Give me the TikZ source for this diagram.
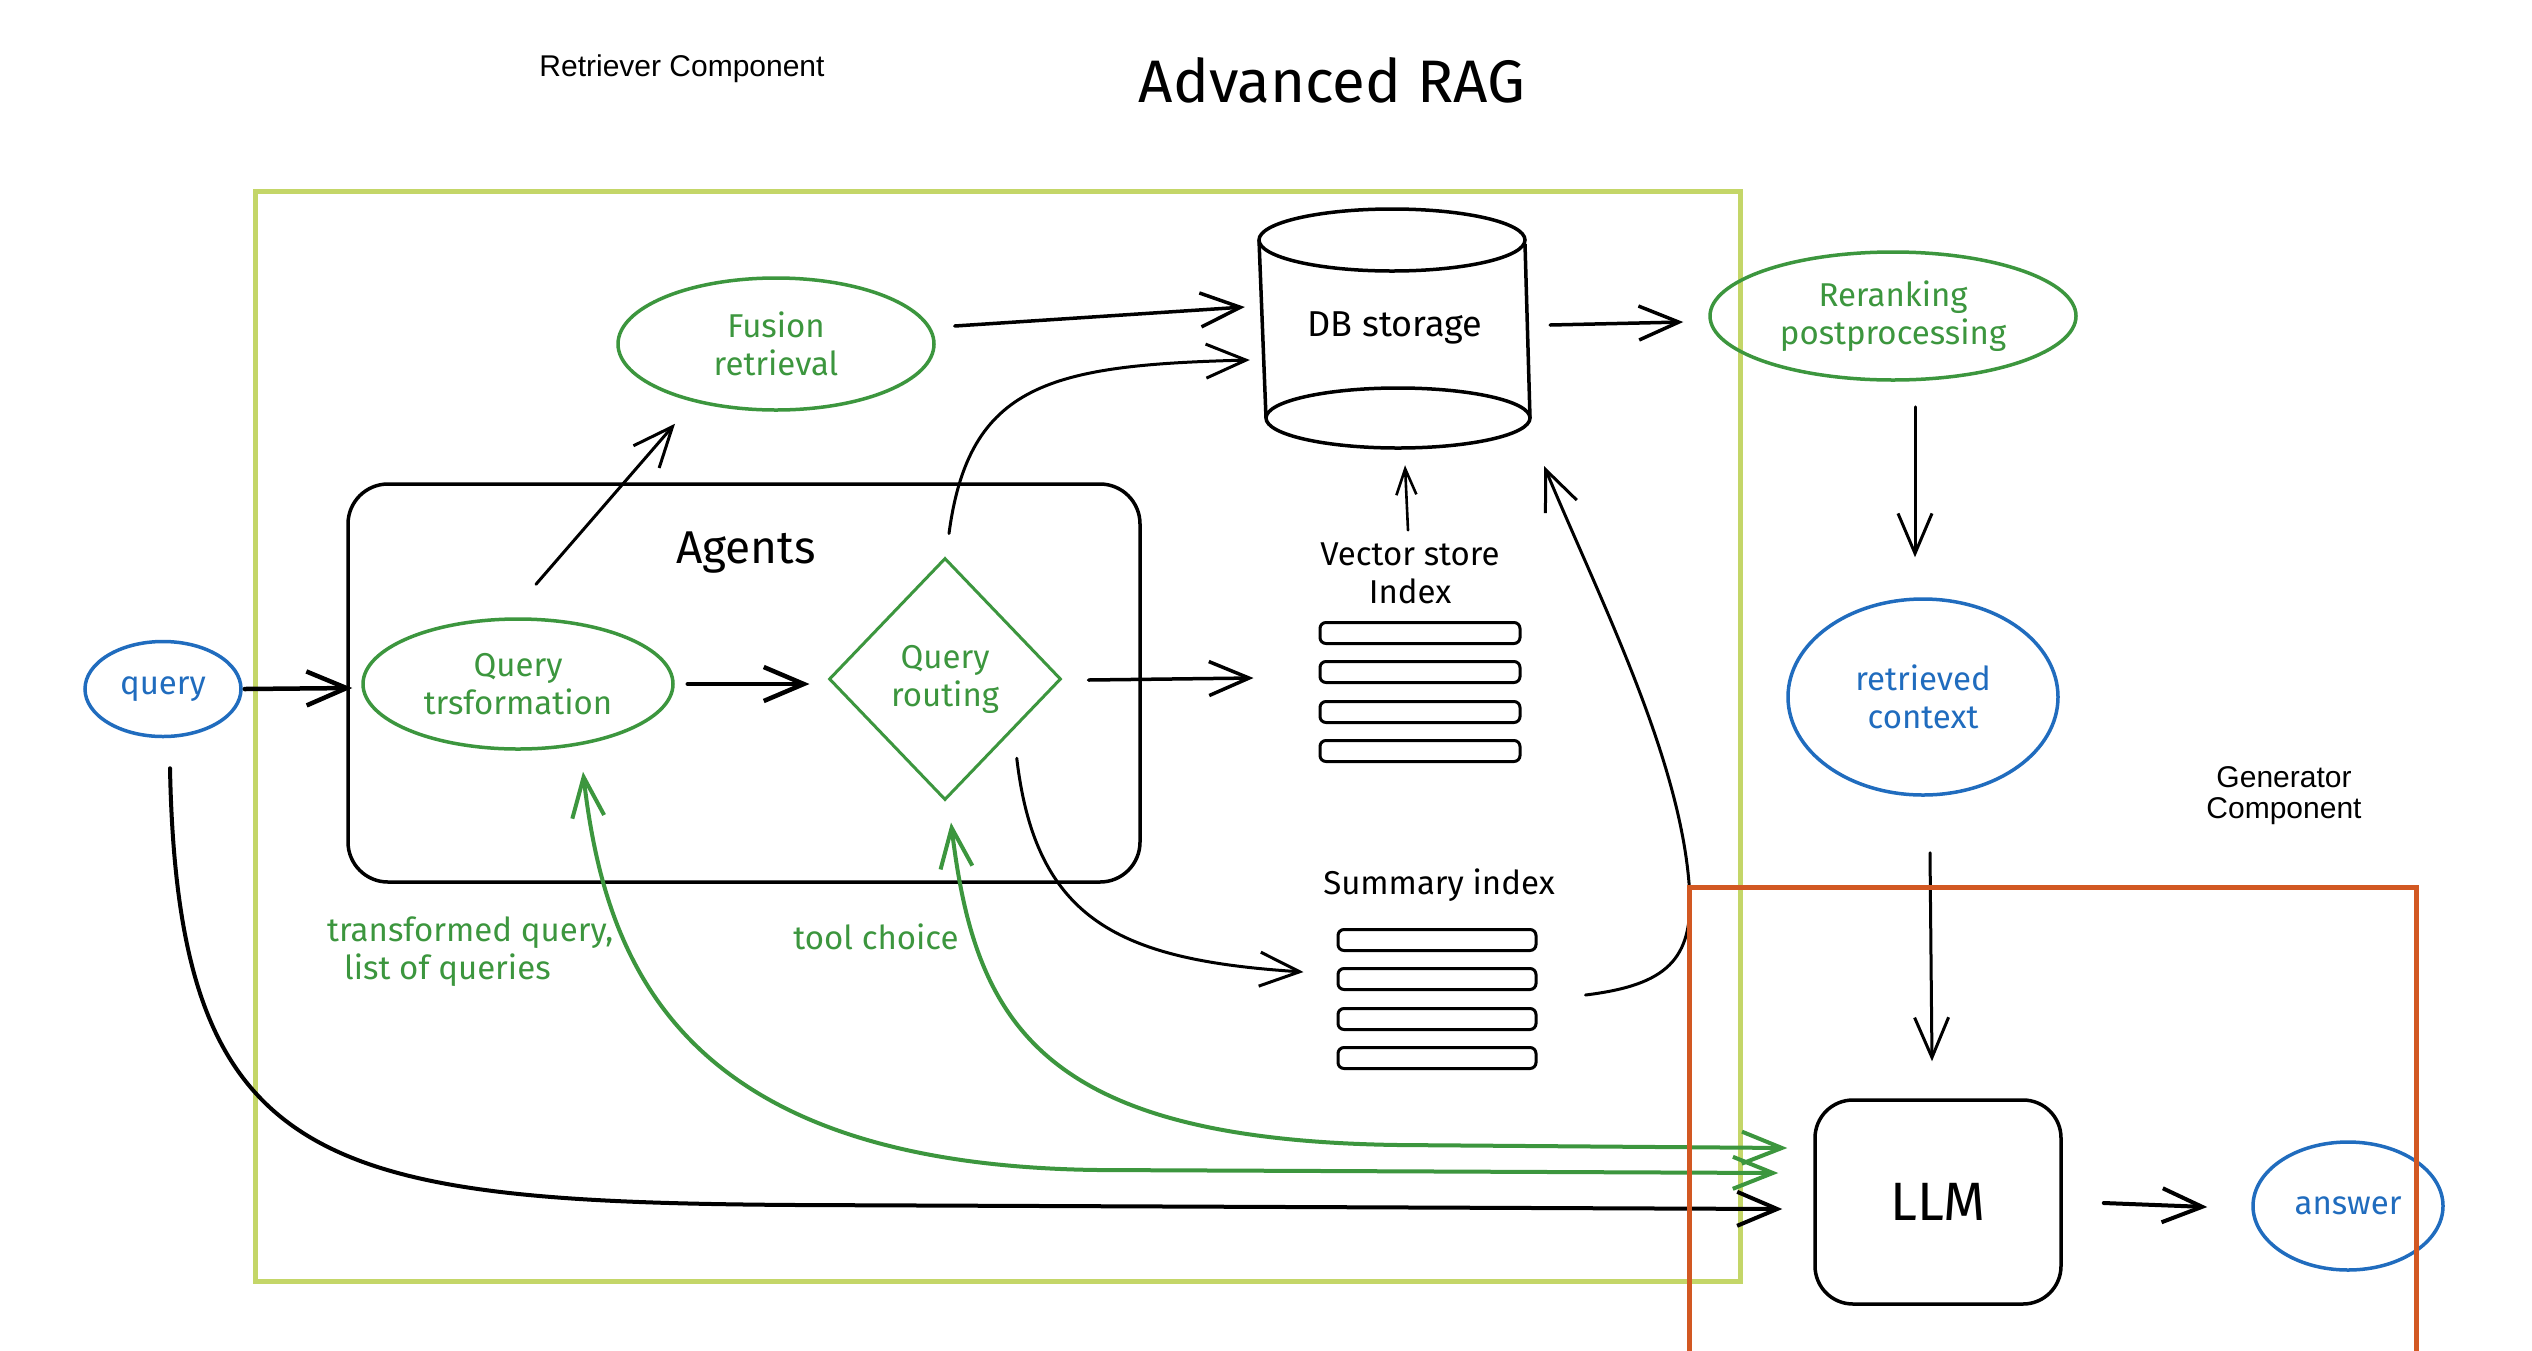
\documentclass[tikz,border=0pt]{standalone}
\usepackage{fontspec}
\setmainfont{Fira Sans}
\newfontfamily\helv{Liberation Sans}
\usetikzlibrary{arrows.meta,shapes.geometric}

\definecolor{sketchgreen}{RGB}{60,150,62}
\definecolor{sketchblue}{RGB}{32,108,190}
\definecolor{limeframe}{RGB}{196,214,104}
\definecolor{orangeframe}{RGB}{210,88,34}

\tikzset{
  hand/.style={font=\fontsize{33}{38}\selectfont, align=center, inner sep=0pt},
  greenell/.style={ellipse, draw=sketchgreen, text=sketchgreen, line width=3.5pt, hand},
  blueell/.style={ellipse, draw=sketchblue, text=sketchblue, line width=3.5pt, hand},
  barrow/.style={-{Straight Barb[length=40pt,width=34pt]}, line width=3.5pt, line cap=round, line join=round},
  smallarrow/.style={-{Straight Barb[length=26pt,width=20pt]}, line width=2.6pt, line cap=round},
  greenarrow/.style={{Straight Barb[length=40pt,width=32pt]}-{Straight Barb[length=40pt,width=32pt]},
    draw=sketchgreen, line width=4pt, line cap=round},
  indexbar/.style={draw, rounded corners=6pt, line width=3pt, minimum height=21pt, inner sep=0pt},
  sketchbox/.style={draw, line width=3.5pt, inner sep=0pt},
}

\begin{document}
\begin{tikzpicture}[x=1pt,y=-1pt]
\useasboundingbox (0,0) rectangle (2532,1350);
\fill[white] (0,0) rectangle (2532,1350);

% headings
\node[font=\helv\fontsize{30}{34}\selectfont] (retrlbl) at (682,69) {Retriever Component};
\node[font=\fontsize{60}{66}\selectfont] (title) at (1332,80) {Advanced RAG};
\node[font=\helv\fontsize{30}{31}\selectfont, align=center] (genlbl) at (2284,796) {Generator\\Component};

% retriever frame
\node[draw=limeframe, line width=5pt, minimum width=1485pt, minimum height=1090pt, inner sep=0pt]
  (retr) at (997.5,736) {};

% agents group
\node[sketchbox, rounded corners=40pt, minimum width=792pt, minimum height=398pt] (agents) at (744,683) {};
\node[font=\fontsize{46}{50}\selectfont] (agentslbl) at (746,553) {Agents};

% nodes
\node[blueell, minimum width=156pt, minimum height=95pt] (query) at (163,689) {query};
\node[greenell, minimum width=310pt, minimum height=130pt] (qt) at (518,684) {Query\\trsformation};
\node[diamond, draw=sketchgreen, text=sketchgreen, line width=3pt, minimum width=232pt,
  minimum height=242pt, hand] (qr) at (945,679) {Query\\routing};
\node[greenell, minimum width=316pt, minimum height=132pt] (fusion) at (776,344) {Fusion\\retrieval};
\node[greenell, minimum width=366pt, minimum height=128pt] (rerank) at (1893,316) {Reranking\\postprocessing};
\node[blueell, minimum width=270pt, minimum height=196pt] (rc) at (1923,697) {retrieved\\context};
\node[sketchbox, rounded corners=38pt, minimum width=246pt, minimum height=204pt,
  font=\fontsize{54}{60}\selectfont] (llm) at (1938,1202) {LLM};
\node[blueell, minimum width=190pt, minimum height=128pt] (ans) at (2348,1206) {answer};

% DB storage cylinder
\draw[line width=3.5pt] (1392,240) ellipse [x radius=133pt, y radius=31pt];
\draw[line width=3.5pt] (1398,418) ellipse [x radius=132pt, y radius=30pt];
\draw[line width=3.5pt] (1259,240) -- (1266,418);
\draw[line width=3.5pt] (1525,244) -- (1530,418);
\node[hand, font=\fontsize{36}{40}\selectfont, minimum width=270pt, minimum height=240pt] (db) at (1395,328) {DB storage};

% vector store index
\node[hand] (vslbl) at (1410,573) {Vector store\\Index};
\node[indexbar, minimum width=200pt] (vs1) at (1420,633) {};
\node[indexbar, minimum width=200pt] (vs2) at (1420,672) {};
\node[indexbar, minimum width=200pt] (vs3) at (1420,712) {};
\node[indexbar, minimum width=200pt] (vs4) at (1420,751) {};

% summary index
\node[hand] (silbl) at (1439,885) {Summary index};
\node[indexbar, minimum width=198pt] (sb1) at (1437,940) {};
\node[indexbar, minimum width=198pt] (sb2) at (1437,979) {};
\node[indexbar, minimum width=198pt] (sb3) at (1437,1019) {};
\node[indexbar, minimum width=198pt] (sb4) at (1437,1058) {};

% green notes
\node[hand, text=sketchgreen, align=left, anchor=west] (tqlbl) at (327,952)
  {transformed query,\\\hspace*{17pt}list of queries};
\node[hand, text=sketchgreen] (tclbl) at (876,937) {tool choice};

% connectors
\draw[barrow, line width=4.5pt] ([xshift=2pt]query.east) -- ([shift={(-9,4)}]qt.west);
\draw[barrow, line width=4.5pt] ([shift={(13,0)}]qt.east) -- ([shift={(-18,5)}]qr.west);
\draw[barrow] ([shift={(26,1)}]qr.east) -- ([shift={(-65,6)}]vs2.west);
\draw[barrow, line width=3pt] ([shift={(18,-33)}]qt.north) -- ([shift={(-101,12)}]fusion.south);
\draw[barrow] ([shift={(19,-18)}]fusion.east) -- ([shift={(-15,-21)}]db.west);
\draw[barrow, line width=3pt] ([shift={(4,-23)}]qr.north)
  .. controls +(20,-150) and +(-200,5) .. ([shift={(-10,32)}]db.west);
\draw[smallarrow] ([shift={(-2,-12)}]vslbl.north) -- ([shift={(10,17)}]db.south);
\draw[barrow] ([shift={(20,-3)}]db.east) -- ([shift={(-25,6)}]rerank.west);
\draw[barrow, line width=3pt] ([shift={(22,25)}]rerank.south) -- ([shift={(-8,-40)}]rc.north);
\draw[barrow, line width=3pt] ([shift={(7,56)}]rc.south) -- ([shift={(-6,-37)}]llm.north);
\draw[barrow, line width=4pt] ([shift={(41,1)}]llm.east) -- ([shift={(-44,1)}]ans.west);
\draw[barrow, line width=3pt] ([shift={(13,18)}]qr.south east)
  .. controls +(19,162) and +(-185,-12) .. ([shift={(-33,-7)}]sb2.west);
\draw[barrow, line width=3pt] ([shift={(48,16)}]sb2.east)
  .. controls +(81,-10) and +(4,70) .. ([shift={(152,-89)}]sb2.east)
  .. controls +(-8,-130) and +(56,134) .. ([shift={(14,18)}]db.south east);
\draw[barrow, line width=4pt] ([shift={(7,30)}]query.south)
  .. controls +(8,400) and +(-480,-3) .. ([shift={(-1015,3)}]llm.west)
  -- ([shift={(-31,7)}]llm.west);
\draw[greenarrow] ([shift={(65,21)}]qt.south)
  .. controls +(22,190) and +(-420,-5) .. ([shift={(-715,-32)}]llm.west)
  -- ([shift={(-35,-29)}]llm.west);
\draw[greenarrow] ([shift={(6,21)}]qr.south)
  .. controls +(24,199) and +(-360,-5) .. ([shift={(-415,-57)}]llm.west)
  -- ([shift={(-26,-54)}]llm.west);

% generator frame, running off the lower edge
\draw[draw=orangeframe, line width=5pt] (1689,1356) -- (1689,887) -- (2416,887) -- (2416,1356);
\end{tikzpicture}
\end{document}
